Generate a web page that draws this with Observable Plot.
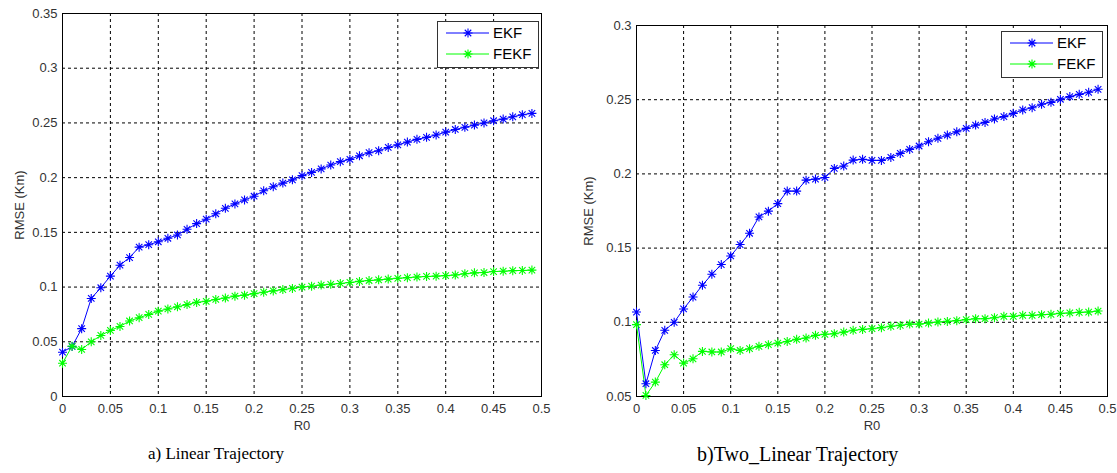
<!DOCTYPE html>
<html><head><meta charset="utf-8">
<script src="https://cdn.jsdelivr.net/npm/d3@7"></script>
<script src="https://cdn.jsdelivr.net/npm/@observablehq/plot@0.6"></script>
<style>
body{margin:0;background:#fff;width:1117px;height:473px;position:relative;overflow:hidden;font-family:"Liberation Sans",Arial,sans-serif}
.panel{position:absolute;top:0}
.panel svg{overflow:visible}
.caption{position:absolute;font-family:"Liberation Serif","Times New Roman",serif;font-size:17px;color:#000;white-space:nowrap}
.legend{position:absolute;border:1.5px solid #333;background:#fff;box-sizing:border-box}
</style></head>
<body>
<div id="pa" class="panel" style="left:0"></div>
<div id="pb" class="panel" style="left:560px"></div>
<div class="caption" style="left:148px;top:444px">a) Linear Trajectory</div>
<div class="caption" style="left:697px;top:443px;font-size:20px">b)Two_Linear Trajectory</div>
<script>
// ---- data ----
const R0 = [0,0.01,0.02,0.03,0.04,0.05,0.06,0.07,0.08,0.09,0.1,0.11,0.12,0.13,0.14,0.15,0.16,0.17,0.18,0.19,0.2,0.21,0.22,0.23,0.24,0.25,0.26,0.27,0.28,0.29,0.3,0.31,0.32,0.33,0.34,0.35,0.36,0.37,0.38,0.39,0.4,0.41,0.42,0.43,0.44,0.45,0.46,0.47,0.48,0.49];
const seriesNames = ["EKF","FEKF"];
const colors = ["#0000ff","#00ff00"];
const xTicks = [0,0.05,0.1,0.15,0.2,0.25,0.3,0.35,0.4,0.45,0.5];
const yTicksA = [0,0.05,0.1,0.15,0.2,0.25,0.3,0.35];
const yTicksB = [0.05,0.1,0.15,0.2,0.25,0.3];
const xLabel = "R0";
const yLabel = "RMSE (Km)";

const ekfA = [0.0405,0.0457,0.062,0.0896,0.0994,0.110,0.120,0.127,0.1365,0.1387,0.1414,0.1446,0.1476,0.1528,0.158,0.162,0.167,0.172,0.176,0.1796,0.183,0.188,0.1917,0.195,0.198,0.2018,0.2048,0.208,0.2115,0.2146,0.2167,0.220,0.2228,0.2246,0.2276,0.230,0.2325,0.235,0.2368,0.239,0.2416,0.244,0.246,0.248,0.250,0.252,0.2535,0.2556,0.2575,0.2587];
const fekfA = [0.0304,0.046,0.043,0.050,0.0558,0.0604,0.064,0.069,0.072,0.075,0.078,0.080,0.082,0.084,0.086,0.087,0.0887,0.090,0.0917,0.0926,0.094,0.0953,0.0965,0.0977,0.0988,0.1000,0.1008,0.1018,0.1025,0.1033,0.1042,0.1052,0.1060,0.1066,0.1073,0.1080,0.1086,0.1092,0.1097,0.1100,0.1105,0.1110,0.1122,0.1130,0.1133,0.1142,0.1145,0.1150,0.1152,0.1155];
const ekfB = [0.1069,0.0586,0.081,0.0946,0.100,0.109,0.117,0.125,0.1324,0.1389,0.1447,0.1524,0.160,0.171,0.1749,0.180,0.1884,0.1884,0.1958,0.1965,0.1976,0.2037,0.2053,0.2093,0.2098,0.2091,0.2091,0.2111,0.2138,0.2165,0.2188,0.2217,0.224,0.2262,0.2284,0.2307,0.2329,0.2347,0.237,0.2386,0.2408,0.2431,0.2446,0.2469,0.2482,0.2503,0.2521,0.2536,0.255,0.257];
const fekfB = [0.0984,0.0507,0.0597,0.0714,0.0781,0.0725,0.0754,0.0804,0.080,0.080,0.0822,0.081,0.0822,0.0838,0.0849,0.086,0.0871,0.0885,0.0894,0.0912,0.0919,0.0923,0.0934,0.0946,0.0952,0.0957,0.0964,0.0973,0.0979,0.0988,0.0988,0.0995,0.1002,0.1006,0.1011,0.1018,0.1024,0.1024,0.1031,0.104,0.104,0.1047,0.1047,0.1051,0.1054,0.106,0.1063,0.1067,0.1069,0.1076];

// MATLAB-like '*' marker (plus + cross)
const star = {draw(ctx, size){
  const r = Math.sqrt(size/Math.PI);
  const d = r*0.72;
  ctx.moveTo(-r,0); ctx.lineTo(r,0);
  ctx.moveTo(0,-r); ctx.lineTo(0,r);
  ctx.moveTo(-d,-d); ctx.lineTo(d,d);
  ctx.moveTo(-d,d); ctx.lineTo(d,-d);
}};

const fmt = d => d === 0 ? "0" : String(+d.toFixed(2));

function table(a, b){
  const rows = [];
  R0.forEach((x,i)=>{rows.push({x, y:a[i], s:seriesNames[0]});});
  R0.forEach((x,i)=>{rows.push({x, y:b[i], s:seriesNames[1]});});
  return rows;
}

function makePanel(cfg){
  const data = table(cfg.a, cfg.b);
  return Plot.plot({
    width: cfg.width, height: 440,
    marginLeft: cfg.ml, marginRight: cfg.mr, marginTop: cfg.mt, marginBottom: 44,
    style: {fontFamily:"'Liberation Sans', Arial, sans-serif", fontSize:"13px", color:"#333", background:"#fff", overflow:"visible"},
    x: {domain:[0,0.5], label:null},
    y: {domain:cfg.yDomain, label:null},
    color: {domain: seriesNames, range: colors},
    marks: [
      Plot.gridX(xTicks, {stroke:"#000", strokeOpacity:1, strokeDasharray:"3,3", strokeWidth:1}),
      Plot.gridY(cfg.yTicks, {stroke:"#000", strokeOpacity:1, strokeDasharray:"3,3", strokeWidth:1}),
      Plot.frame({stroke:"#000", strokeWidth:1}),
      Plot.axisX(xTicks, {tickSize:0, tickPadding:7, tickFormat:fmt, label:xLabel, labelAnchor:"center", labelArrow:"none", labelOffset:33, fill:"#333"}),
      Plot.axisY(cfg.yTicks, {tickSize:0, tickPadding:5, tickFormat:fmt, label:yLabel, labelAnchor:"center", labelArrow:"none", labelOffset:cfg.lo, fill:"#333"}),
      Plot.line(data, {x:"x", y:"y", z:"s", stroke:"s", strokeWidth:1}),
      Plot.dot(data, {x:"x", y:"y", stroke:"s", symbol: star, r:4.5, strokeWidth:1.1})
    ]
  });
}

document.getElementById("pa").append(makePanel({a:ekfA, b:fekfA, width:558, ml:62, mr:17, mt:13, yDomain:[0,0.35], yTicks:yTicksA, lo:48}));
document.getElementById("pb").append(makePanel({a:ekfB, b:fekfB, width:557, ml:76, mr:10, mt:25, yDomain:[0.05,0.3], yTicks:yTicksB, lo:53}));

function legend(left, top){
  const div = document.createElement("div");
  div.className = "legend";
  div.style.left = left+"px"; div.style.top = top+"px";
  div.style.width = "102px"; div.style.height = "47px";
  const w = 102, h = 47;
  const svg = d3.create("svg").attr("width", w-3).attr("height", h-3).style("display","block");
  seriesNames.forEach((n,i)=>{
    const y = 11 + i*21;
    svg.append("line").attr("x1",8).attr("x2",51).attr("y1",y).attr("y2",y).attr("stroke",colors[i]).attr("stroke-width",1);
    const p = d3.path(); star.draw(p, Math.PI*4.5*4.5);
    svg.append("path").attr("d", p.toString()).attr("transform",`translate(30,${y})`).attr("stroke",colors[i]).attr("fill","none").attr("stroke-width",1.1);
    svg.append("text").attr("x",55).attr("y",y+5).text(n).attr("font-size","15px").attr("fill","#000").attr("font-family","'Liberation Sans', Arial, sans-serif");
  });
  div.append(svg.node());
  document.body.append(div);
}
legend(437, 21);
legend(1001, 31);
</script>
</body></html>
